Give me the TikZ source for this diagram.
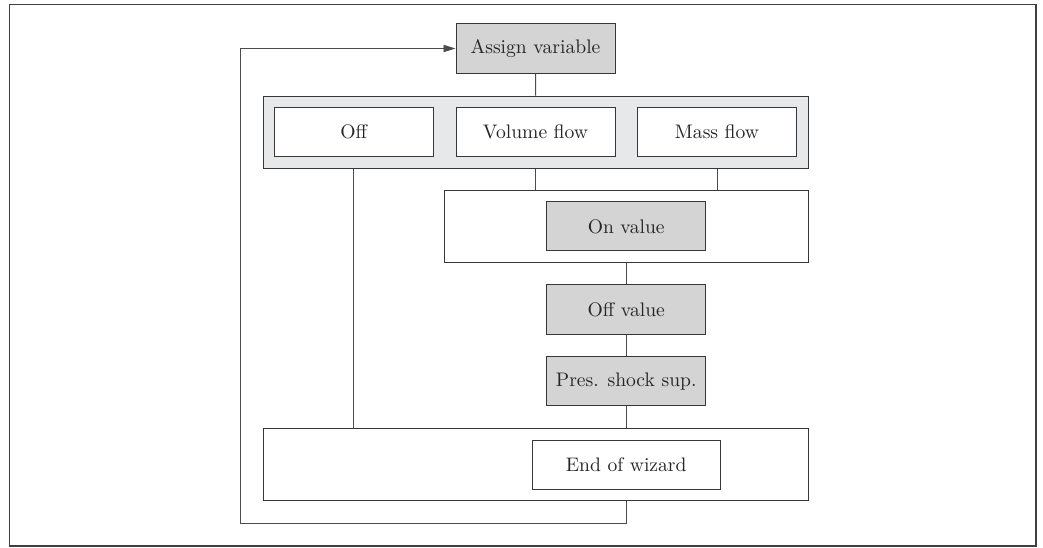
\documentclass[tikz,border=0pt]{standalone}
\usepackage{tikz}
\usetikzlibrary{arrows.meta}
\definecolor{boxfill}{RGB}{212,212,212}
\definecolor{panelfill}{RGB}{231,232,233}
\definecolor{linegrey}{RGB}{55,55,55}
\begin{document}
\begin{tikzpicture}[x=0.5pt, y=-0.5pt, every node/.style={align=center, inner sep=0pt, font=\fontsize{9.8}{11}\selectfont, text=black!85},
 item/.style={draw=linegrey, line width=0.5pt, minimum height=24.6pt},
 greybox/.style={item, fill=boxfill, minimum width=79.5pt},
 whitebox/.style={item, fill=white, minimum width=79.5pt},
 panel/.style={draw=linegrey, line width=0.5pt, minimum height=36pt},
 link/.style={draw=black!70, line width=0.45pt},
 arr/.style={link, -{Triangle[length=6pt,width=3.6pt]}}]
\useasboundingbox (0,0) rectangle (1043,547);
\draw[draw=black!75, line width=0.9pt] (9.5,4.5) rectangle (1036,546);
\node[greybox] (assign) at (535.5,48.5) {Assign variable};
\node[panel, fill=panelfill, minimum width=272.4pt] (sel) at (535.7,132) {};
\node[whitebox] (off) at (353.8,131.7) {Off};
\node[whitebox] (vol) at (535.5,131.7) {Volume flow};
\node[whitebox] (mass) at (717,131.7) {Mass flow};
\node[panel, fill=white, minimum width=181.8pt] (onpanel) at (626.2,226.2) {};
\node[greybox] (onval) at (626.2,226.3) {On value};
\node[greybox] (offval) at (626.2,309.5) {Off value};
\node[greybox] (pres) at (626.2,381.3) {Pres. shock sup.};
\node[panel, fill=white, minimum width=272.4pt] (endpanel) at (535.7,464.2) {};
\node[item, fill=white, minimum width=93.9pt] (endw) at (626.2,464.7) {End of wizard};
\coordinate (loop) at (240.7,523);
\draw[link] (assign)--(sel);\draw[link] (sel.south -| off)--(endpanel.north -| off);\draw[link] (sel.south -| vol)--(onpanel.north -| vol);\draw[link] (sel.south -| mass)--(onpanel.north -| mass);
\draw[link] (onpanel)--(offval);\draw[link] (offval)--(pres);\draw[link] (pres)--(endpanel.north -| pres);
\draw[arr] (endpanel.south -| endw) |- (loop) |- (assign.west);
\end{tikzpicture}
\end{document}
